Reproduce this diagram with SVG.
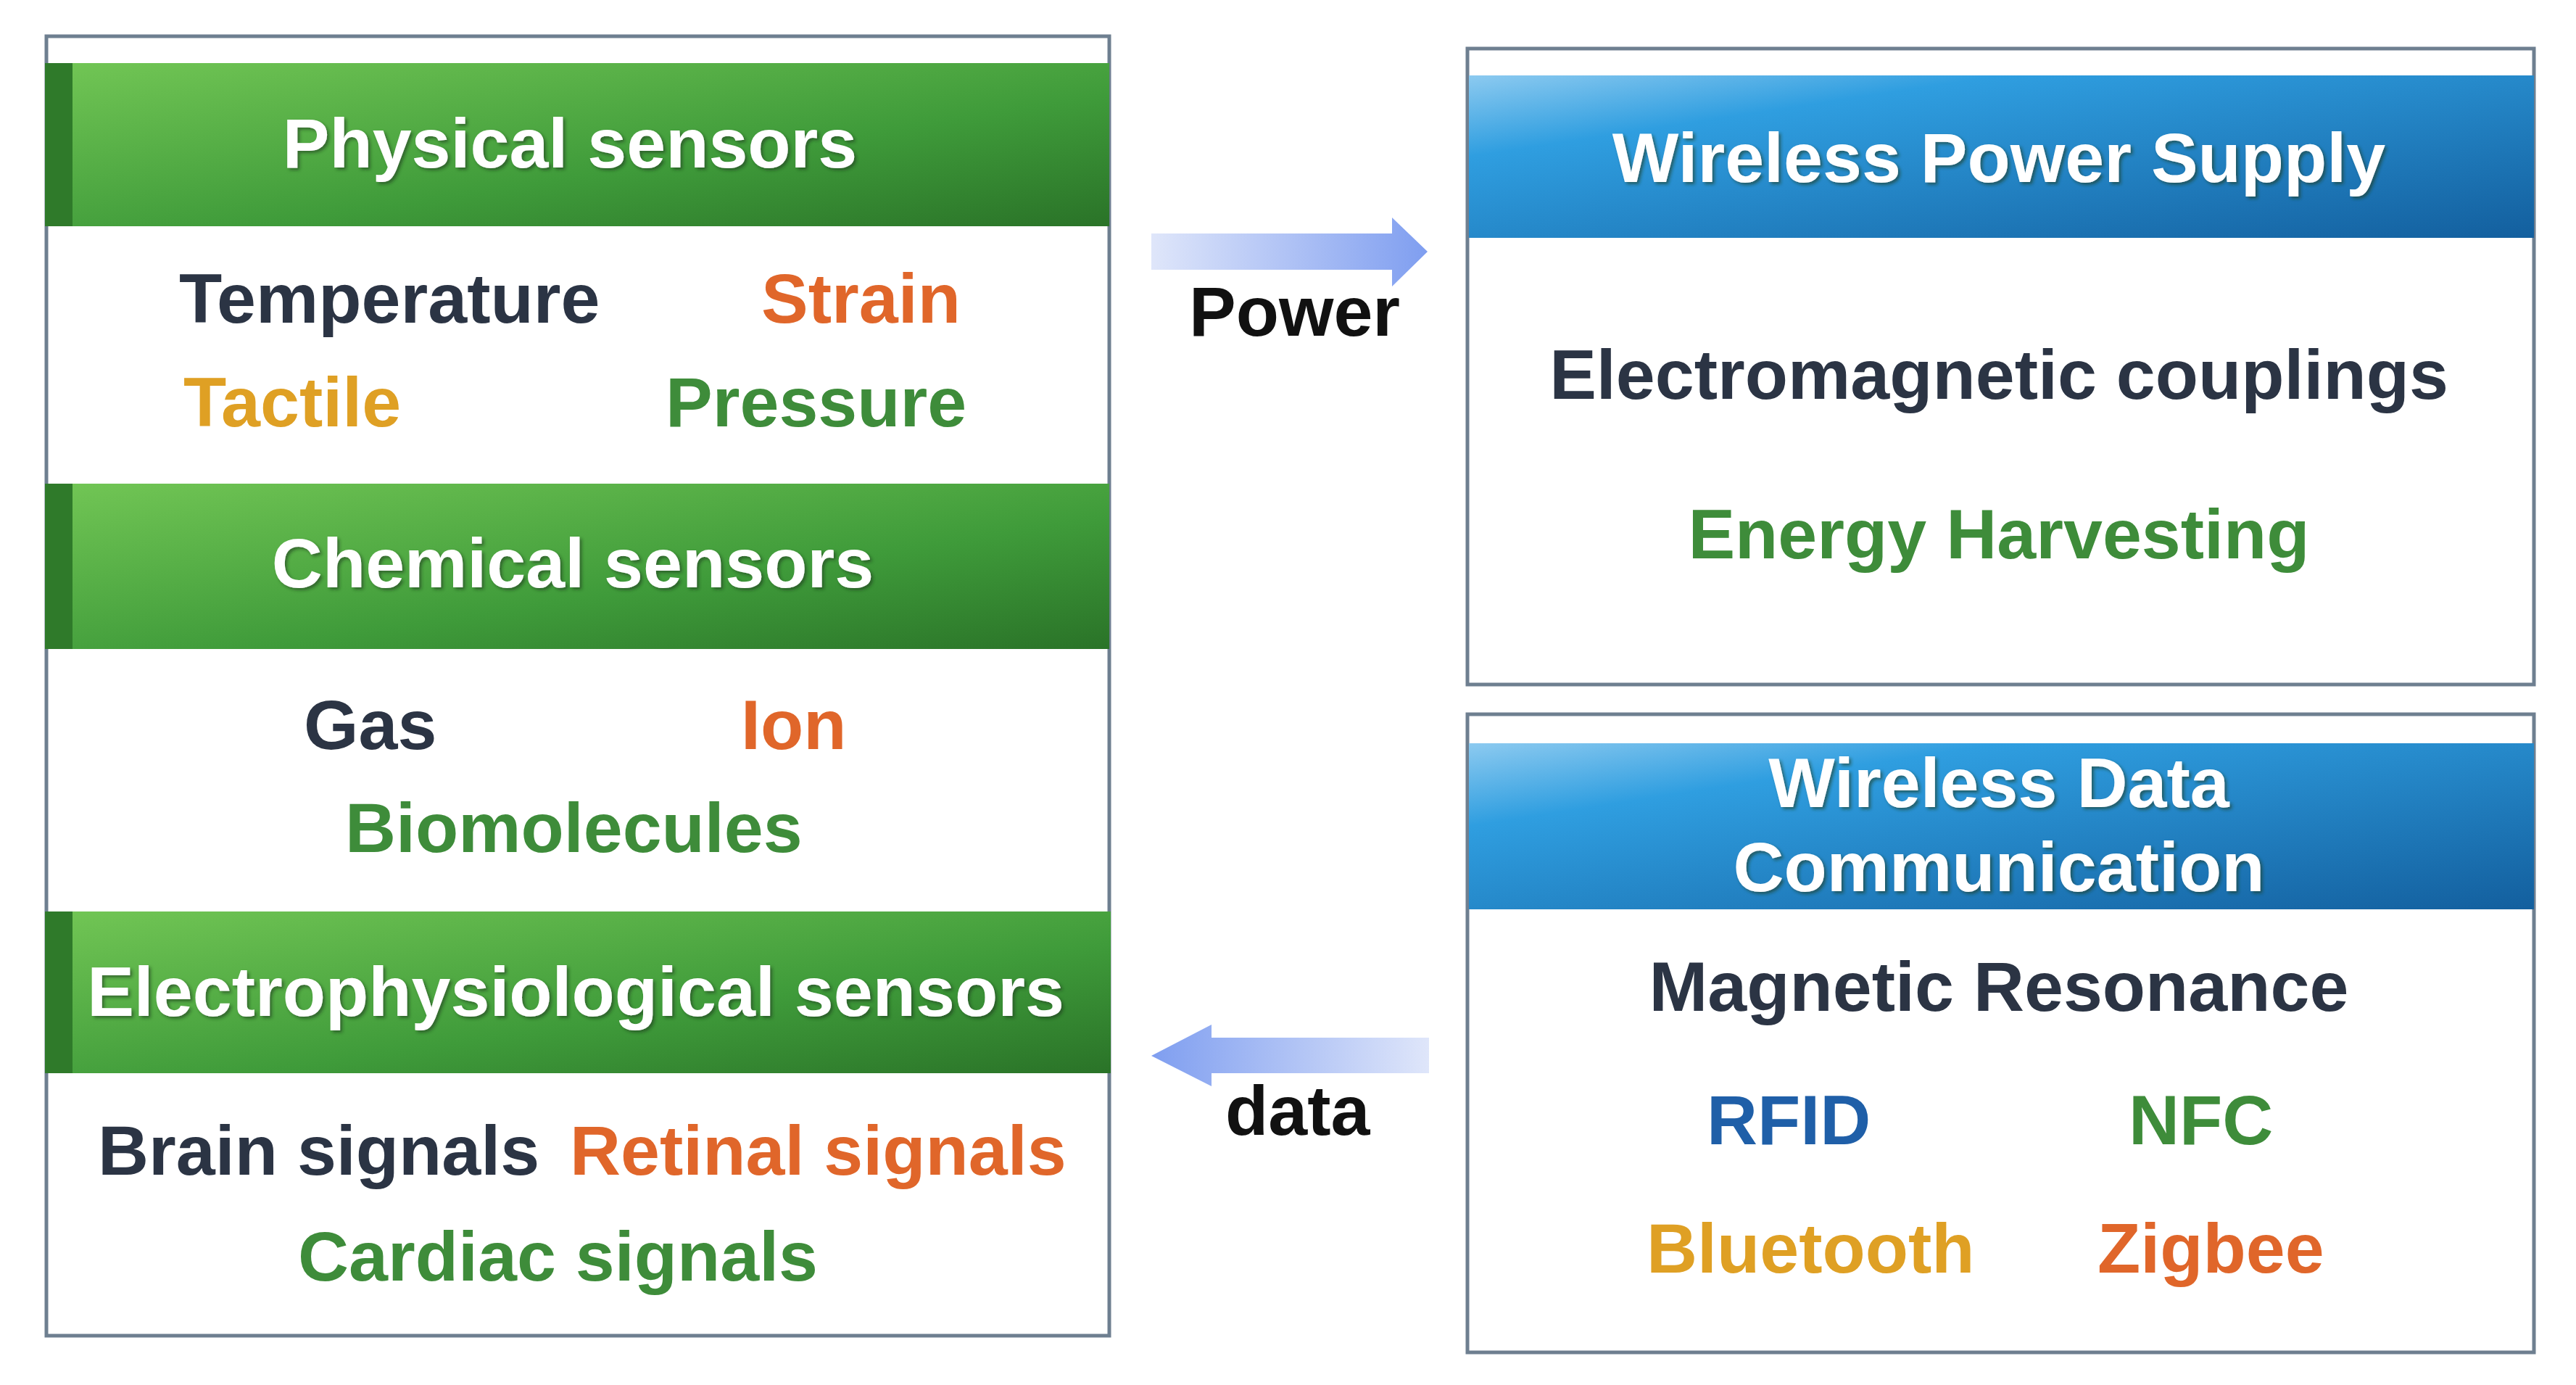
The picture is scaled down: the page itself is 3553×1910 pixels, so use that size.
<svg xmlns="http://www.w3.org/2000/svg" width="3553" height="1910" viewBox="0 0 3553 1910">
<defs>
<linearGradient id="gg" x1="0" y1="0" x2="1" y2="1"><stop offset="0" stop-color="#72c655"/><stop offset="0.6" stop-color="#3f9b3a"/><stop offset="1" stop-color="#2a7328"/></linearGradient>
<linearGradient id="bg" x1="0" y1="0" x2="1" y2="1"><stop offset="0" stop-color="#8ccaf0"/><stop offset="0.25" stop-color="#2f9ee0"/><stop offset="1" stop-color="#135f9e"/></linearGradient>
<linearGradient id="ar" x1="0" y1="0" x2="1" y2="0"><stop offset="0" stop-color="#dfe6fa"/><stop offset="1" stop-color="#7f9ef0"/></linearGradient>
<linearGradient id="al" x1="1" y1="0" x2="0" y2="0"><stop offset="0" stop-color="#dfe6fa"/><stop offset="1" stop-color="#7f9ef0"/></linearGradient>
<filter id="sh"><feDropShadow dx="3" dy="3" stdDeviation="2" flood-color="#1a3a1a" flood-opacity="0.6"/></filter>
</defs>
<style>
text{font-family:"Liberation Sans",Arial,sans-serif;font-weight:bold;font-size:97px}
.h{fill:#fff;font-size:97px;text-anchor:middle;filter:url(#sh)}
.box{fill:#fff;stroke:#6e7f90;stroke-width:5}
.d{fill:#2b3444}.o{fill:#e0662a}.y{fill:#dfa024}.g{fill:#3e8c3a}.b{fill:#1f5fa8}.k{fill:#111}
.c{text-anchor:middle}
</style>
<g id="sensors">
<rect class="box" x="64" y="50" width="1466" height="1792"/>
<rect x="62" y="87" width="1468" height="225" fill="url(#gg)"/>
<rect x="62" y="87" width="38" height="225" fill="#2f7a2a"/>
<rect x="62" y="667" width="1468" height="228" fill="url(#gg)"/>
<rect x="62" y="667" width="38" height="228" fill="#2f7a2a"/>
<rect x="62" y="1257" width="1470" height="223" fill="url(#gg)"/>
<rect x="62" y="1257" width="38" height="223" fill="#2f7a2a"/>
<text class="h" x="786" y="231">Physical sensors</text>
<text class="d" x="247" y="445">Temperature</text>
<text class="o" x="1050" y="445">Strain</text>
<text class="y" x="253" y="588">Tactile</text>
<text class="g" x="918" y="588">Pressure</text>
<text class="h" x="790" y="810">Chemical sensors</text>
<text class="d" x="419" y="1033">Gas</text>
<text class="o" x="1022" y="1033">Ion</text>
<text class="g" x="476" y="1175">Biomolecules</text>
<text class="h" x="794" y="1401">Electrophysiological sensors</text>
<text class="d" x="135" y="1620">Brain signals</text>
<text class="o" x="786" y="1620">Retinal signals</text>
<text class="g" x="411" y="1766">Cardiac signals</text>
</g>
<g id="power">
<rect class="box" x="2024" y="67" width="1471" height="877"/>
<rect x="2026" y="104" width="1469" height="224" fill="url(#bg)"/>
<text class="h" x="2757" y="251">Wireless Power Supply</text>
<text class="d c" x="2757" y="550">Electromagnetic couplings</text>
<text class="g c" x="2757" y="770">Energy Harvesting</text>
</g>
<g id="data">
<rect class="box" x="2024" y="985" width="1471" height="880"/>
<rect x="2026" y="1025" width="1469" height="229" fill="url(#bg)"/>
<text class="h" x="2757" y="1113">Wireless Data</text>
<text class="h" x="2757" y="1229">Communication</text>
<text class="d c" x="2757" y="1394">Magnetic Resonance</text>
<text class="b" x="2354" y="1578">RFID</text>
<text class="g" x="2936" y="1578">NFC</text>
<text class="y" x="2271" y="1755">Bluetooth</text>
<text class="o" x="2893" y="1755">Zigbee</text>
</g>
<g id="connectors">
<polygon points="1588,322 1920,322 1920,300 1969,347 1920,395 1920,372 1588,372" fill="url(#ar)"/>
<text class="k" x="1640" y="463">Power</text>
<polygon points="1971,1431 1671,1431 1671,1413 1588,1456 1671,1498 1671,1480 1971,1480" fill="url(#al)"/>
<text class="k" x="1690" y="1565">data</text>
</g>
</svg>
